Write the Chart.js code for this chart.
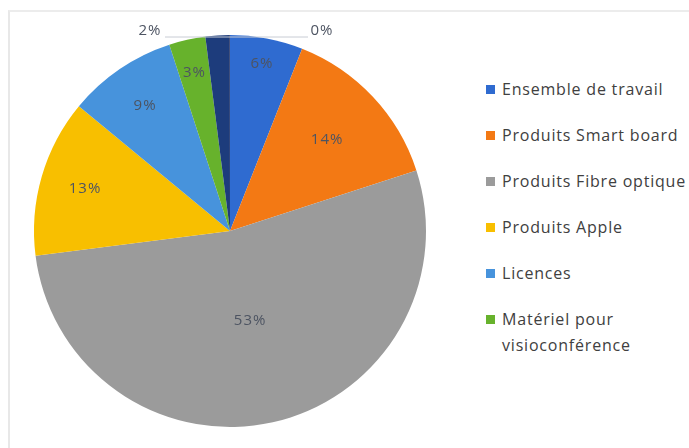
<!DOCTYPE html>
<html lang="fr">
<head>
<meta charset="UTF-8" />
<title>Répartition</title>
<script src="https://cdn.jsdelivr.net/npm/chart.js@4/dist/chart.umd.min.js"></script>
<style>
  body { margin: 0; background: #fff; font-family: "Open Sans", sans-serif; }
  #frame { position: absolute; left: 8px; top: 10px; width: 700px; height: 460px;
           border-left: 2px solid #e8e8e8; border-top: 2px solid #ececec; }
  #wrap { position: absolute; left: 0; top: 0; width: 460px; height: 448px; }
  #legend { position: absolute; left: 486px; top: 76px; width: 230px; }
  .item { display: flex; align-items: flex-start; height: 46px; color: #404040; font-size: 16px;
          letter-spacing: 0.8px; line-height: 26px; white-space: nowrap; }
  .box { width: 9px; height: 9px; margin: 9px 7px 0 0; flex: none; }
</style>
</head>
<body>
<div id="frame"></div>
<div id="wrap"><canvas id="pie"></canvas></div>
<div id="legend"></div>
<script>
// données
const categories = ["Ensemble de travail", "Produits Smart board", "Produits Fibre optique",
  "Produits Apple", "Licences", "Matériel pour visioconférence", "Autres", "Divers"];
const valeurs = [6, 14, 53, 13, 9, 3, 2, 0.01];
const etiquettes = ["6%", "14%", "53%", "13%", "9%", "3%", "2%", "0%"];
const nbLegende = 6;

const couleurs = ["#2f6bd0", "#f37914", "#9b9b9b", "#f8bf00", "#4793dc", "#67b22c", "#1d3c7c", "#9e480e"];
// position des étiquettes (fraction du rayon), null = à l'extérieur
const rayonLabel = [0.87, 0.68, 0.47, 0.77, 0.77, 0.83, null, null];

const labelPlugin = {
  id: "labels",
  afterDraw(chart) {
    const ctx = chart.ctx;
    const arcs = chart.getDatasetMeta(0).data;
    ctx.save();
    ctx.font = "15px 'Open Sans', sans-serif";
    ctx.letterSpacing = "1px";
    ctx.fillStyle = "#4d5462";
    ctx.textAlign = "center";
    ctx.textBaseline = "middle";
    arcs.forEach((arc, i) => {
      if (rayonLabel[i] == null) return;
      const a = (arc.startAngle + arc.endAngle) / 2;
      const r = arc.outerRadius * rayonLabel[i];
      ctx.fillText(etiquettes[i], arc.x + Math.cos(a) * r, arc.y + Math.sin(a) * r);
    });
    // petites parts : ligne de rappel horizontale au sommet
    const top = arcs[7];
    const yTop = top.y - top.outerRadius + 2;
    ctx.strokeStyle = "#c8ccd4";
    ctx.lineWidth = 1;
    ctx.beginPath();
    ctx.moveTo(top.x - 65, yTop);
    ctx.lineTo(top.x + 78, yTop);
    ctx.stroke();
    ctx.fillText(etiquettes[6], top.x - 80, yTop - 6);
    ctx.fillText(etiquettes[7], top.x + 92, yTop - 6);
    ctx.restore();
  }
};

const chart = new Chart("pie", {
  type: "pie",
  data: {
    labels: categories,
    datasets: [{ data: valeurs, backgroundColor: couleurs, borderWidth: 0 }]
  },
  options: {
    responsive: true,
    maintainAspectRatio: false,
    animation: false,
    layout: { padding: { top: 35, bottom: 21, left: 34, right: 34 } },
    plugins: { legend: { display: false }, tooltip: { enabled: false } }
  },
  plugins: [labelPlugin]
});

// légende
const leg = document.getElementById("legend");
categories.slice(0, nbLegende).forEach((c, i) => {
  const d = document.createElement("div");
  d.className = "item";
  const txt = i === 5 ? "Matériel pour<br>visioconférence" : c;
  d.innerHTML = '<span class="box" style="background:' + couleurs[i] + '"></span><span>' + txt + "</span>";
  leg.appendChild(d);
});
</script>
</body>
</html>
